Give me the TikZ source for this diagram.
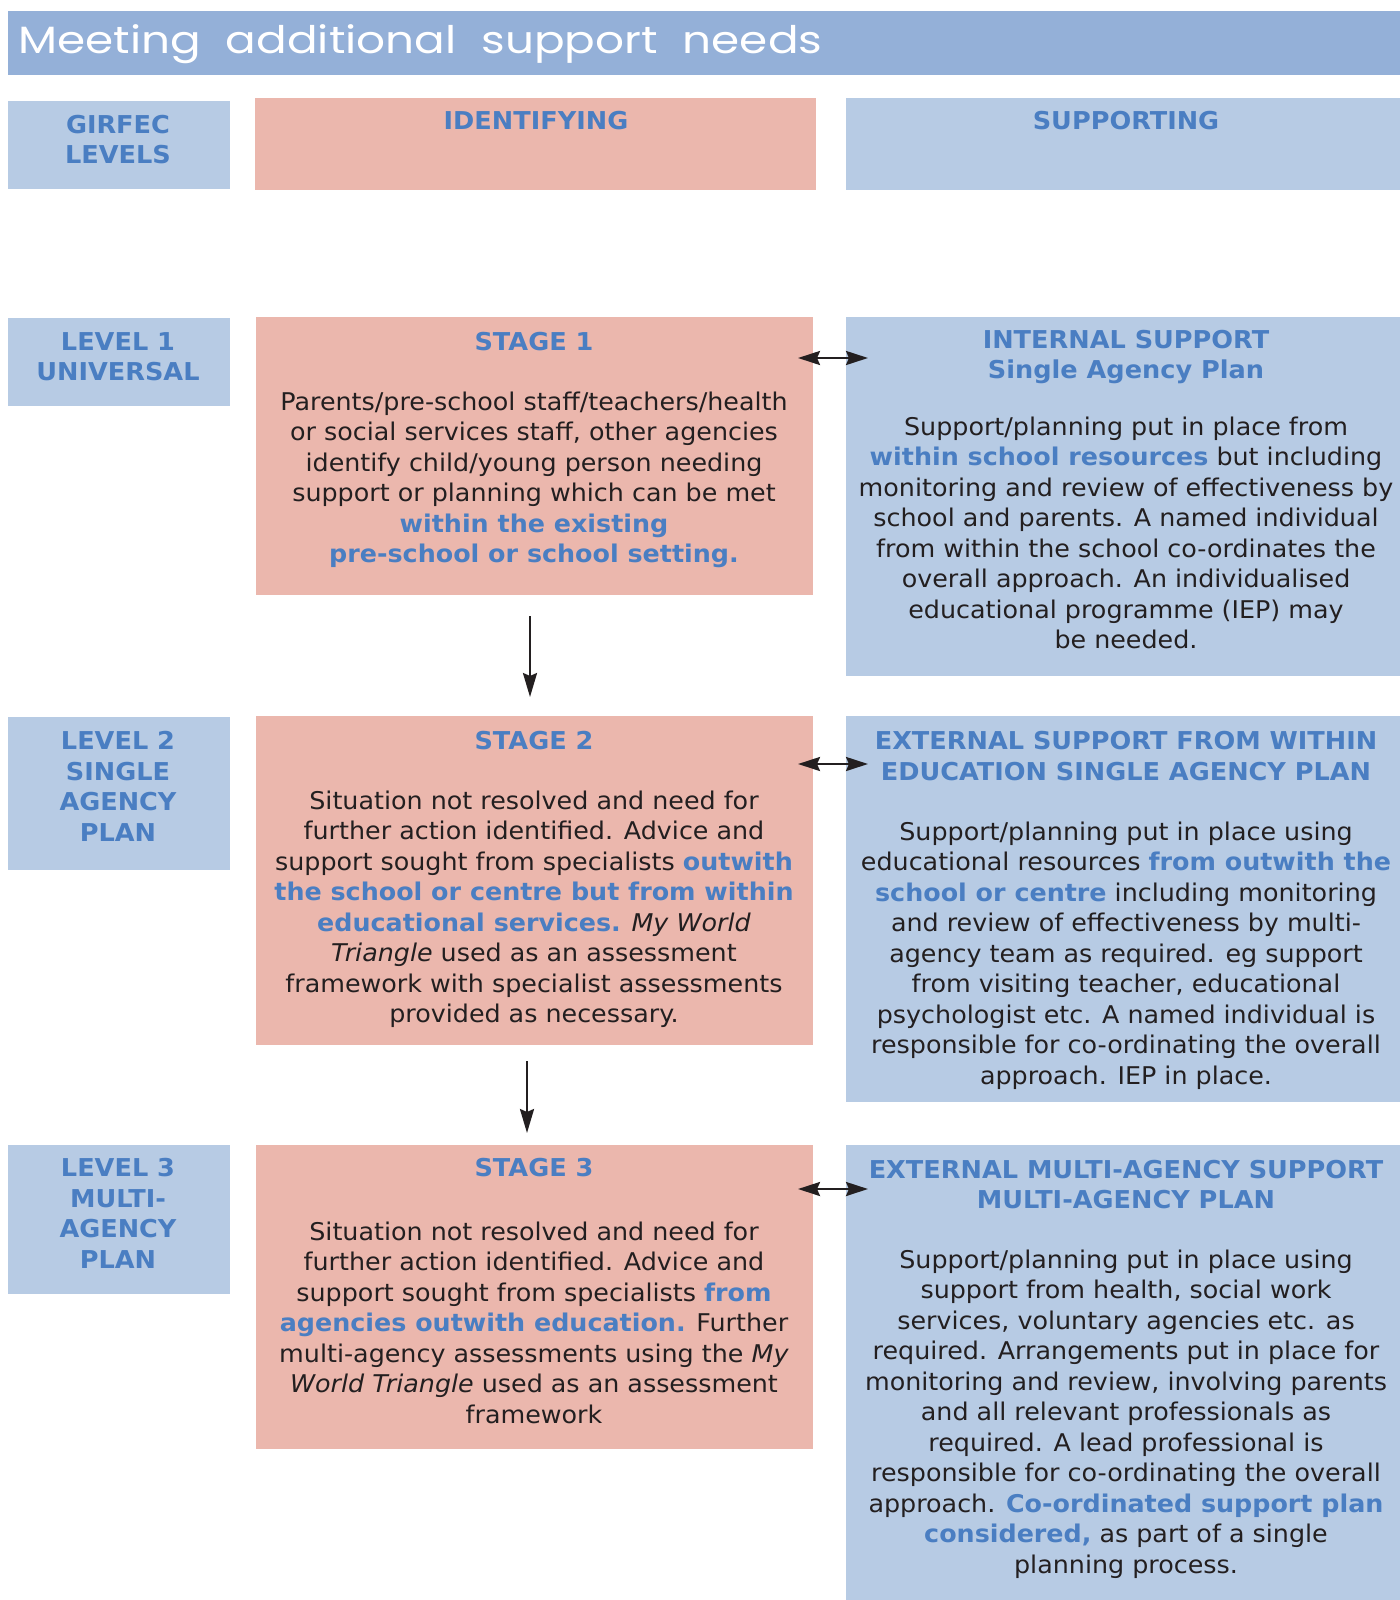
\documentclass[tikz,border=0pt]{standalone}
\usepackage{fontspec}
\setmainfont{DejaVu Sans}[FakeStretch=1.04]
\newfontfamily\titlefont{Poppins}
\usetikzlibrary{arrows.meta}
\definecolor{pinkc}{HTML}{EBB7AD}
\definecolor{bluec}{HTML}{B7CBE4}
\definecolor{titlec}{HTML}{94B0D8}
\definecolor{hblue}{HTML}{4A7EC2}
\definecolor{darkc}{HTML}{231F20}
\newcommand\hlb[1]{\textbf{\color{hblue}#1}}
\tikzset{
  boxn/.style={anchor=north west, inner sep=0, outer sep=0, draw=none},
  pinkbox/.style={boxn, fill=pinkc},
  bluebox/.style={boxn, fill=bluec},
  headtxt/.style={inner sep=0, align=center, text=hblue, font=\fontsize{12.3}{15.25}\selectfont\bfseries},
  bodytxt/.style={inner sep=0, align=center, text=darkc, font=\fontsize{12.2}{15.25}\selectfont},
  varrow/.style={line width=1.2pt, darkc, -{Stealth[length=12pt, width=7pt, inset=1.5pt]}},
  harrow/.style={line width=1.3pt, darkc, {Stealth[length=11pt, width=7pt, inset=1.5pt]}-{Stealth[length=11pt, width=7pt, inset=1.5pt]}}
}
\begin{document}
\begin{tikzpicture}[x=0.5pt,y=-0.5pt]
\useasboundingbox (0,0) rectangle (1400,1600);
% title
\node[boxn, fill=titlec, minimum width=696pt, minimum height=32pt] (title) at (8,11) {};
\node[anchor=base west, inner sep=0, text=white] (titletext) at (18,54)
  {\resizebox{402pt}{\height}{\fontsize{19}{19}\titlefont\spaceskip=0.55em Meeting additional support needs}};
% header row
\node[bluebox, minimum width=111pt, minimum height=44pt] (g0) at (8,101) {};
\node[pinkbox, minimum width=280.5pt, minimum height=46pt] (id0) at (255,98) {};
\node[bluebox, minimum width=277pt, minimum height=46pt] (sp0) at (846,98) {};
\node[headtxt] (g0t) at (118,139.5) {GIRFEC\\LEVELS};
\node[headtxt] (id0t) at (536,121) {IDENTIFYING};
\node[headtxt] (sp0t) at (1126,121) {SUPPORTING};
% row 1
\node[bluebox, minimum width=111pt, minimum height=44pt] (l1) at (8,318) {};
\node[pinkbox, minimum width=278.5pt, minimum height=139pt] (s1) at (256,317) {};
\node[bluebox, minimum width=277pt, minimum height=179.5pt] (i1) at (846,317) {};
\node[headtxt] (l1t) at (118,356.5) {LEVEL 1\\UNIVERSAL};
\node[headtxt] (s1h) at (534,342) {STAGE 1};
\node[bodytxt] (s1b) at (534,480) {Parents/pre-school staff/teachers/health\\
or social services staff, other agencies\\
identify child/young person needing\\
support or planning which can be met\\
\hlb{within the existing}\\
\hlb{pre-school or school setting.}};
\node[headtxt] (i1h) at (1126,357) {INTERNAL SUPPORT\\Single Agency Plan};
\node[bodytxt] (i1b) at (1126,533) {Support/planning put in place from\\
\hlb{within school resources} but including\\
monitoring and review of effectiveness by\\
school and parents. A named individual\\
from within the school co-ordinates the\\
overall approach. An individualised\\
educational programme (IEP) may\\
be needed.};
% row 2
\node[bluebox, minimum width=111pt, minimum height=76.5pt] (l2) at (8,717) {};
\node[pinkbox, minimum width=278.5pt, minimum height=164.5pt] (s2) at (256,716) {};
\node[bluebox, minimum width=277pt, minimum height=193pt] (e2) at (846,716) {};
\node[headtxt] (l2t) at (118,786.5) {LEVEL 2\\SINGLE\\AGENCY\\PLAN};
\node[headtxt] (s2h) at (534,741) {STAGE 2};
\node[bodytxt] (s2b) at (534,909.5) {Situation not resolved and need for\\
further action identified. Advice and\\
support sought from specialists \hlb{outwith}\\
\hlb{the school or centre but from within}\\
\hlb{educational services.} \textit{My World}\\
\textit{Triangle} used as an assessment\\
framework with specialist assessments\\
provided as necessary.};
\node[headtxt] (e2h) at (1126,756) {EXTERNAL SUPPORT FROM WITHIN\\EDUCATION SINGLE AGENCY PLAN};
\node[bodytxt] (e2b) at (1126,955.5) {Support/planning put in place using\\
educational resources \hlb{from outwith the}\\
\hlb{school or centre} including monitoring\\
and review of effectiveness by multi-\\
agency team as required. eg support\\
from visiting teacher, educational\\
psychologist etc. A named individual is\\
responsible for co-ordinating the overall\\
approach. IEP in place.};
% row 3
\node[bluebox, minimum width=111pt, minimum height=74.5pt] (l3) at (8,1145) {};
\node[pinkbox, minimum width=278.5pt, minimum height=152pt] (s3) at (256,1145) {};
\node[bluebox, minimum width=277pt, minimum height=227.5pt] (m3) at (846,1145) {};
\node[headtxt] (l3t) at (118,1213.5) {LEVEL 3\\MULTI-\\AGENCY\\PLAN};
\node[headtxt] (s3h) at (534,1168) {STAGE 3};
\node[bodytxt] (s3b) at (534,1322.5) {Situation not resolved and need for\\
further action identified. Advice and\\
support sought from specialists \hlb{from}\\
\hlb{agencies outwith education.} Further\\
multi-agency assessments using the \textit{My}\\
\textit{World Triangle} used as an assessment\\
framework};
\node[headtxt] (m3h) at (1126,1184.5) {EXTERNAL MULTI-AGENCY SUPPORT\\MULTI-AGENCY PLAN};
\node[bodytxt] (m3b) at (1126,1414) {Support/planning put in place using\\
support from health, social work\\
services, voluntary agencies etc. as\\
required. Arrangements put in place for\\
monitoring and review, involving parents\\
and all relevant professionals as\\
required. A lead professional is\\
responsible for co-ordinating the overall\\
approach. \hlb{Co-ordinated support plan}\\
\hlb{considered,} as part of a single\\
planning process.};
% arrows
\draw[varrow] ([xshift=-2.25pt,yshift=-10.5pt]s1.south) -- ([xshift=-2.25pt,yshift=9.5pt]s2.north);
\draw[varrow] ([xshift=-3.75pt,yshift=-8pt]s2.south) -- ([xshift=-3.75pt,yshift=6pt]s3.north);
\draw[harrow] ([xshift=-7.5pt,yshift=-20.5pt]s1.north east) -- ([xshift=11pt,yshift=-20.5pt]i1.north west);
\draw[harrow] ([xshift=-7.5pt,yshift=-24pt]s2.north east) -- ([xshift=11pt,yshift=-24pt]e2.north west);
\draw[harrow] ([xshift=-7.5pt,yshift=-22pt]s3.north east) -- ([xshift=11pt,yshift=-22pt]m3.north west);
\end{tikzpicture}
\end{document}
